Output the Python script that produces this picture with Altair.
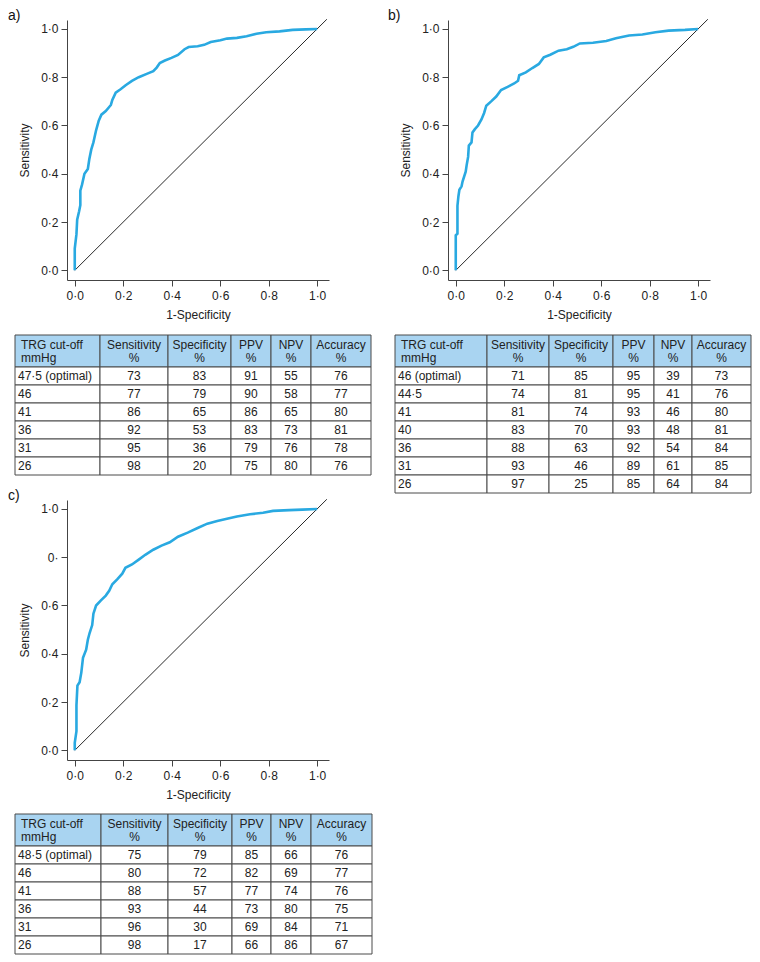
import altair as alt
import numpy as np
import pandas as pd

FONT = "Liberation Sans"
BLUE = "#29a9e1"
HEADER_FILL = "#a9d4f1"
GRID_LINE = "#4a4a4a"
TEXT = "#222222"

# ---------------- ROC curves (1-specificity, sensitivity) ----------------
fpr_a = [0.0, 0.0, 0.007, 0.01, 0.018, 0.023, 0.023, 0.03, 0.04, 0.054, 0.06, 0.068,
         0.077, 0.088, 0.099, 0.11, 0.128, 0.149, 0.155, 0.169, 0.189, 0.21, 0.236,
         0.264, 0.297, 0.324, 0.338, 0.351, 0.372, 0.399, 0.426, 0.453, 0.47, 0.507,
         0.534, 0.561, 0.601, 0.628, 0.669, 0.709, 0.75, 0.79, 0.845, 0.899, 0.953, 1.0]
tpr_a = [0.0, 0.09, 0.15, 0.21, 0.245, 0.27, 0.33, 0.355, 0.40, 0.42, 0.46, 0.50,
         0.53, 0.58, 0.62, 0.645, 0.66, 0.685, 0.706, 0.736, 0.75, 0.767, 0.785,
         0.80, 0.814, 0.825, 0.84, 0.859, 0.869, 0.88, 0.892, 0.916, 0.925, 0.928,
         0.934, 0.946, 0.953, 0.96, 0.963, 0.97, 0.98, 0.986, 0.99, 0.996, 0.998, 1.0]

fpr_b = [0.0, 0.0, 0.007, 0.007, 0.011, 0.015, 0.024, 0.028, 0.041, 0.045, 0.051,
         0.054, 0.065, 0.069, 0.079, 0.092, 0.106, 0.117, 0.126, 0.146, 0.167, 0.187,
         0.214, 0.241, 0.257, 0.262, 0.289, 0.316, 0.343, 0.363, 0.39, 0.424, 0.458,
         0.485, 0.512, 0.566, 0.621, 0.661, 0.715, 0.77, 0.824, 0.878, 0.946, 1.0]
tpr_b = [0.0, 0.145, 0.152, 0.267, 0.307, 0.334, 0.348, 0.368, 0.409, 0.436, 0.47,
         0.517, 0.53, 0.571, 0.585, 0.60, 0.625, 0.652, 0.682, 0.70, 0.72, 0.747,
         0.76, 0.774, 0.785, 0.808, 0.82, 0.838, 0.855, 0.882, 0.893, 0.91, 0.916,
         0.926, 0.94, 0.943, 0.95, 0.961, 0.973, 0.977, 0.986, 0.993, 0.996, 1.0]

fpr_c = [0.0, 0.0, 0.007, 0.007, 0.011, 0.02, 0.027, 0.034, 0.047, 0.054, 0.061,
         0.072, 0.077, 0.088, 0.108, 0.128, 0.142, 0.155, 0.176, 0.196, 0.209, 0.236,
         0.264, 0.291, 0.324, 0.358, 0.392, 0.426, 0.466, 0.507, 0.547, 0.588, 0.628,
         0.669, 0.723, 0.777, 0.818, 0.885, 0.939, 1.0]
tpr_c = [0.0, 0.031, 0.079, 0.187, 0.268, 0.282, 0.322, 0.383, 0.417, 0.458, 0.485,
         0.519, 0.566, 0.60, 0.621, 0.641, 0.661, 0.688, 0.709, 0.732, 0.756, 0.77,
         0.79, 0.81, 0.831, 0.848, 0.862, 0.885, 0.902, 0.921, 0.939, 0.95, 0.959,
         0.969, 0.978, 0.984, 0.992, 0.995, 0.997, 1.0]

diag_vals = [0.0, 1.04]
tick_values = [0.0, 0.2, 0.4, 0.6, 0.8, 1.0]

# ---------------- Tables ----------------
header_line1 = ["TRG cut-off", "Sensitivity", "Specificity", "PPV", "NPV", "Accuracy"]
header_line2 = ["mmHg", "%", "%", "%", "%", "%"]

cut_a = ["47·5 (optimal)", "46", "41", "36", "31", "26"]
sens_a = [73, 77, 86, 92, 95, 98]
spec_a = [83, 79, 65, 53, 36, 20]
ppv_a = [91, 90, 86, 83, 79, 75]
npv_a = [55, 58, 65, 73, 76, 80]
acc_a = [76, 77, 80, 81, 78, 76]

cut_b = ["46 (optimal)", "44·5", "41", "40", "36", "31", "26"]
sens_b = [71, 74, 81, 83, 88, 93, 97]
spec_b = [85, 81, 74, 70, 63, 46, 25]
ppv_b = [95, 95, 93, 93, 92, 89, 85]
npv_b = [39, 41, 46, 48, 54, 61, 64]
acc_b = [73, 76, 80, 81, 84, 85, 84]

cut_c = ["48·5 (optimal)", "46", "41", "36", "31", "26"]
sens_c = [75, 80, 88, 93, 96, 98]
spec_c = [79, 72, 57, 44, 30, 17]
ppv_c = [85, 82, 77, 73, 69, 66]
npv_c = [66, 69, 74, 80, 84, 86]
acc_c = [76, 77, 76, 75, 71, 67]

# ---------------- Layout constants ----------------
PLOT_W, PLOT_H = 262, 260
X_DOMAIN = [-0.032, 1.049]
Y_DOMAIN = [-0.04, 1.037]
HEADER_H, ROW_H = 32, 18
widths_a = [85, 68, 63, 40, 40, 60]
widths_b = [92, 62, 64, 41, 38, 59]
widths_c = [86, 67, 64, 39, 40, 61]

DOT_EXPR = "replace(format(datum.value, '.1f'), '.', '·')"
C_Y_EXPR = "abs(datum.value - 0.8) < 0.001 ? '0·' : " + DOT_EXPR


def roc_panel(fpr, tpr, label, title_dx, y_expr):
    df = pd.DataFrame({"fpr": fpr, "tpr": tpr, "i": list(range(len(fpr)))})
    diag = pd.DataFrame({"fpr": diag_vals, "tpr": diag_vals, "i": [0, 1]})
    x_enc = alt.X(
        "fpr:Q",
        scale=alt.Scale(domain=X_DOMAIN, nice=False, zero=False),
        axis=alt.Axis(values=tick_values, labelExpr=DOT_EXPR, title="1-Specificity"),
    )
    y_enc = alt.Y(
        "tpr:Q",
        scale=alt.Scale(domain=Y_DOMAIN, nice=False, zero=False),
        axis=alt.Axis(values=tick_values, labelExpr=y_expr, title="Sensitivity"),
    )
    diag_layer = alt.Chart(diag).mark_line(color="#111111", strokeWidth=0.9).encode(
        x=x_enc, y=y_enc, order="i:Q"
    )
    curve = alt.Chart(df).mark_line(color=BLUE, strokeWidth=2.6).encode(
        x=x_enc, y=y_enc, order="i:Q"
    )
    return alt.layer(diag_layer, curve).properties(
        width=PLOT_W,
        height=PLOT_H,
        title=alt.TitleParams(
            text=label, anchor="start", frame="group", orient="top", dx=title_dx,
            dy=17.5, offset=1, baseline="alphabetic", fontSize=14, fontWeight="normal",
            font=FONT, color="#111111",
        ),
    )


def table_panel(widths, shift, cuts, sens, spec, ppv, npv, acc):
    edges = np.concatenate([[0], np.cumsum(widths)]).astype(float)
    total_w = float(edges[-1])
    n = len(cuts)
    total_h = HEADER_H + n * ROW_H
    columns = [cuts, sens, spec, ppv, npv, acc]
    cells, left_txt, center_txt = [], [], []
    for j in range(6):
        x0, x1 = edges[j], edges[j + 1]
        cells.append({"x": x0, "x2": x1, "y": 0, "y2": HEADER_H, "kind": "header"})
        for line, yy in ((header_line1[j], 9.5), (header_line2[j], 22.5)):
            if j == 0:
                left_txt.append({"tx": x0 + 6, "ty": yy, "t": line})
            else:
                center_txt.append({"tx": (x0 + x1) / 2, "ty": yy, "t": line})
        for r in range(n):
            y0 = HEADER_H + r * ROW_H
            cells.append({"x": x0, "x2": x1, "y": y0, "y2": y0 + ROW_H, "kind": "body"})
            val = str(columns[j][r])
            if j == 0:
                left_txt.append({"tx": x0 + 3, "ty": y0 + ROW_H / 2, "t": val})
            else:
                center_txt.append({"tx": (x0 + x1) / 2, "ty": y0 + ROW_H / 2, "t": val})

    # the table starts `shift` px left of the column origin (the plot's y axis)
    xs = alt.Scale(domain=[0, total_w], range=[-shift, total_w - shift],
                   nice=False, zero=False, padding=0)
    ys = alt.Scale(domain=[0, total_h], reverse=True, nice=False, zero=False, padding=0)

    rects = alt.Chart(pd.DataFrame(cells)).mark_rect(stroke=GRID_LINE, strokeWidth=1).encode(
        x=alt.X("x:Q", scale=xs, axis=None),
        x2="x2:Q",
        y=alt.Y("y:Q", scale=ys, axis=None),
        y2="y2:Q",
        color=alt.Color("kind:N", scale=alt.Scale(domain=["header", "body"],
                                                  range=[HEADER_FILL, "#ffffff"]), legend=None),
    )
    t_left = alt.Chart(pd.DataFrame(left_txt)).mark_text(
        align="left", baseline="middle", fontSize=12, font=FONT, color=TEXT
    ).encode(x=alt.X("tx:Q", scale=xs, axis=None), y=alt.Y("ty:Q", scale=ys, axis=None), text="t:N")
    t_center = alt.Chart(pd.DataFrame(center_txt)).mark_text(
        align="center", baseline="middle", fontSize=12, font=FONT, color=TEXT
    ).encode(x=alt.X("tx:Q", scale=xs, axis=None), y=alt.Y("ty:Q", scale=ys, axis=None), text="t:N")
    return alt.layer(rects, t_left, t_center).properties(
        width=total_w - shift, height=total_h
    )


plot_a = roc_panel(fpr_a, tpr_a, "a)", -59, DOT_EXPR)
plot_b = roc_panel(fpr_b, tpr_b, "b)", -60, DOT_EXPR)
plot_c = roc_panel(fpr_c, tpr_c, "c)", -59, C_Y_EXPR)

table_a = table_panel(widths_a, 52, cut_a, sens_a, spec_a, ppv_a, npv_a, acc_a)
table_b = table_panel(widths_b, 53, cut_b, sens_b, spec_b, ppv_b, npv_b, acc_b)
table_c = table_panel(widths_c, 52, cut_c, sens_c, spec_c, ppv_c, npv_c, acc_c)

col_a = alt.vconcat(plot_a, table_a, spacing=14)
col_b = alt.vconcat(plot_b, table_b, spacing=14)
row1 = alt.hconcat(col_a, col_b, spacing=16)
col_c = alt.vconcat(plot_c, table_c, spacing=13)

chart = (
    alt.vconcat(row1, col_c, spacing=-6)
    .properties(padding=0)
    .configure(font=FONT)
    .configure_view(stroke=None)
    .configure_axis(
        grid=False, domainColor="#444444", domainWidth=1, tickColor="#444444",
        tickSize=6, tickWidth=1, labelFont=FONT, labelFontSize=12, labelColor=TEXT,
        titleFont=FONT, titleFontSize=12, titleFontWeight="normal", titleColor=TEXT,
        labelFlush=False,
    )
    .configure_axisX(labelPadding=4, titlePadding=8)
    .configure_axisY(labelPadding=3, titlePadding=9)
)

chart.save("out.html", embed_options={"renderer": "svg", "actions": False})
